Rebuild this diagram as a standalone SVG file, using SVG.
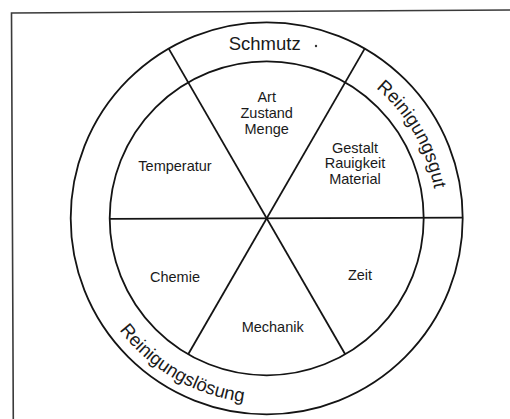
<svg xmlns="http://www.w3.org/2000/svg" width="510" height="419" viewBox="0 0 510 419">
<style>
.ln{fill:none;stroke:#141414;stroke-width:1.8}
.frame{fill:none;stroke:#3a3a3a;stroke-width:1.6}
.t{font-family:"Liberation Sans",Arial,sans-serif;font-size:14.5px;fill:#1a1a1a;text-anchor:middle}
.r{font-family:"Liberation Sans",Arial,sans-serif;font-size:18.5px;fill:#1a1a1a}
</style>
<defs>
<path id="arcGut" d="M351.7,71.1 A170,170 0 0 1 436.7,218.3"/>
<path id="arcLsg" d="M81.7,218.3 A185,185 0 0 0 359.2,378.5"/>
</defs>
<rect width="510" height="419" fill="#fff"/>
<path class="frame" d="M13.3,419 L11.5,13 L510,10"/>
<g id="connectors">
<circle class="ln" cx="266.7" cy="218.3" r="196"/>
<circle class="ln" cx="266.7" cy="218.3" r="157"/>
<line class="ln" x1="168.7" y1="48.6" x2="345.2" y2="354.3"/>
<line class="ln" x1="364.7" y1="48.6" x2="188.2" y2="354.3"/>
<line class="ln" x1="109.7" y1="218.8" x2="462.7" y2="217.6"/>
</g>
<g id="schmutz">
<text class="r" x="264.7" y="50" text-anchor="middle" font-size="18">Schmutz</text>
<circle cx="316" cy="46" r="1.2" fill="#333"/>
</g>
<g id="reinigungsgut">
<text class="r"><textPath href="#arcGut" startOffset="50%" text-anchor="middle">Reinigungsgut</textPath></text>
</g>
<g id="reinigungsloesung">
<text class="r" font-size="19"><textPath href="#arcLsg" startOffset="50%" text-anchor="middle">Reinigungslösung</textPath></text>
</g>
<g id="schmutz-eigenschaften">
<text class="t" x="266.7" y="102.3">Art</text>
<text class="t" x="266.7" y="118.3">Zustand</text>
<text class="t" x="266.7" y="133.8">Menge</text>
</g>
<g id="gut-eigenschaften">
<text class="t" x="355" y="152.7">Gestalt</text>
<text class="t" x="355" y="168.3">Rauigkeit</text>
<text class="t" x="355" y="183.8">Material</text>
</g>
<g id="temperatur"><text class="t" x="175" y="171">Temperatur</text></g>
<g id="chemie"><text class="t" x="175" y="281.7">Chemie</text></g>
<g id="zeit"><text class="t" x="360" y="280">Zeit</text></g>
<g id="mechanik"><text class="t" x="272.7" y="332.3">Mechanik</text></g>
</svg>
